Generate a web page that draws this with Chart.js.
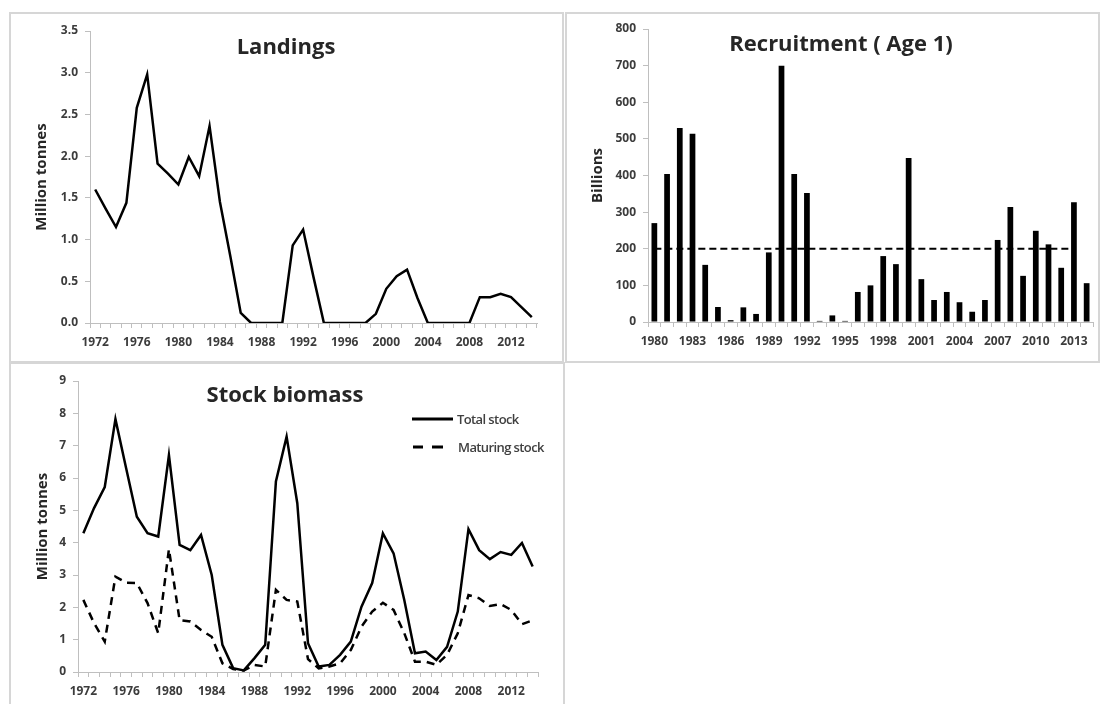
<!DOCTYPE html>
<html><head><meta charset="utf-8">
<script src="https://cdn.jsdelivr.net/npm/chart.js@4.4.1/dist/chart.umd.min.js"></script>
<style>
body{margin:0;background:#fff;width:1104px;height:704px;overflow:hidden;position:relative;font-family:'Open Sans',sans-serif}
.panel{position:absolute;border:2px solid #d6d6d6;background:#fff;overflow:hidden}
.panel canvas{position:absolute;left:0;top:0}
.ttl{position:absolute;font-weight:700;font-size:22px;color:#262626;white-space:nowrap;transform:translate(-50%,-50%);line-height:1}
.lg{position:absolute;font-size:13px;font-weight:600;color:#404040;white-space:nowrap;transform:translateY(-50%);line-height:1;letter-spacing:-0.6px}
.ln{position:absolute;height:3px;background:#000;transform:translateY(-50%)}
</style></head>
<body>
<div class="panel" id="p1" style="left:9px;top:12px;width:551px;height:347px">
  <canvas id="c1" width="551" height="347"></canvas>
  <div class="ttl" style="left:275px;top:31px">Landings</div>
</div>
<div class="panel" id="p2" style="left:565px;top:12px;width:531px;height:347px">
  <canvas id="c2" width="531" height="347"></canvas>
  <div class="ttl" style="left:274px;top:28px">Recruitment ( Age 1)</div>
</div>
<div class="panel" id="p3" style="left:9px;top:362px;width:552px;height:345px">
  <canvas id="c3" width="552" height="345"></canvas>
  <div class="ttl" style="left:274px;top:29px">Stock biomass</div>
  <div class="ln" style="left:401px;top:55px;width:41px"></div>
  <div class="lg" id="lg1" style="left:446px;top:55px"></div>
  <div class="ln" style="left:402px;top:83px;width:10px"></div>
  <div class="ln" style="left:421px;top:83px;width:11px"></div>
  <div class="lg" id="lg2" style="left:447px;top:83px"></div>
</div>
<script>
// ---- data ----
const years = [1972,1973,1974,1975,1976,1977,1978,1979,1980,1981,1982,1983,1984,1985,1986,1987,1988,1989,1990,1991,1992,1993,1994,1995,1996,1997,1998,1999,2000,2001,2002,2003,2004,2005,2006,2007,2008,2009,2010,2011,2012,2013,2014];
const landings = [1.60,1.37,1.15,1.44,2.58,2.98,1.91,1.79,1.66,1.99,1.76,2.36,1.45,0.80,0.12,0,0,0,0,0.93,1.12,0.55,0,0,0,0,0,0.11,0.41,0.56,0.64,0.30,0,0,0,0,0,0.31,0.31,0.35,0.31,0.19,0.07];
const totalStock = [4.29,5.07,5.72,7.82,6.30,4.80,4.29,4.19,6.71,3.93,3.77,4.24,3.00,0.84,0.12,0.05,0.43,0.84,5.89,7.28,5.22,0.89,0.17,0.22,0.53,0.94,2.02,2.75,4.29,3.67,2.23,0.58,0.63,0.37,0.78,1.87,4.42,3.77,3.49,3.71,3.62,3.99,3.26];
const maturingStock = [2.23,1.51,0.94,2.95,2.76,2.75,2.13,1.20,3.80,1.60,1.56,1.30,1.09,0.27,0.09,0.05,0.22,0.17,2.54,2.23,2.18,0.40,0.11,0.17,0.27,0.68,1.40,1.87,2.14,1.92,1.20,0.32,0.32,0.22,0.53,1.20,2.38,2.28,2.04,2.10,1.92,1.48,1.60];
const recruitYears = [1980,1981,1982,1983,1984,1985,1986,1987,1988,1989,1990,1991,1992,1993,1994,1995,1996,1997,1998,1999,2000,2001,2002,2003,2004,2005,2006,2007,2008,2009,2010,2011,2012,2013,2014];
const recruitment = [270,404,530,514,156,41,5,40,22,190,700,404,352,3,18,3,82,100,180,158,448,117,60,82,54,28,60,224,314,126,249,212,148,327,106];
const refLevel = [200,200,200,200,200,200,200,200,200,200,200,200,200,200,200,200,200,200,200,200,200,200,200,200,200,200,200,200,200,200,200,200,200,200,null];
const seriesNames = ['Total stock','Maturing stock'];
const titles = {landingsY:'Million tonnes', recruitY:'Billions', stockY:'Million tonnes'};

document.getElementById('lg1').textContent = seriesNames[0];
document.getElementById('lg2').textContent = seriesNames[1];

const tickFont = {family:'Open Sans', weight:'bold', size:12};
const tickColor = '#3c3c3c';
const axisGrey = '#bfbfbf';
const titleFont = {family:'Open Sans', weight:'bold', size:15};

function xAxis(height, every, firstYear){
  return {
    type:'category', offset:true,
    grid:{display:true, drawOnChartArea:false, drawTicks:true, tickLength:5, offset:true, color:axisGrey, lineWidth:1},
    border:{display:true, color:axisGrey, width:1},
    ticks:{autoSkip:false, maxRotation:0, minRotation:0, font:tickFont, color:tickColor, padding:7,
      callback:function(v){ const y = Number(this.getLabelForValue(v)); return ((y-firstYear)%every===0)? String(y):''; }},
    afterFit:s=>{s.height=height;}
  };
}
function yAxis(width, max, step, dec, title, padTop){
  return {
    min:0, max:max,
    grid:{display:true, drawOnChartArea:false, drawTicks:true, tickLength:5, color:axisGrey, lineWidth:1},
    border:{display:true, color:axisGrey, width:1},
    ticks:{stepSize:step, font:tickFont, color:tickColor, padding:7, callback:v=>v.toFixed(dec)},
    title:{display:true, text:title, font:titleFont, color:'#262626', padding:{top:padTop,bottom:0}},
    afterFit:s=>{s.width=width;}
  };
}
const common = {responsive:false, animation:false, devicePixelRatio:1,
  plugins:{legend:{display:false}, tooltip:{enabled:false}, title:{display:false}}};

new Chart(document.getElementById('c1'), {
  type:'line',
  data:{labels:years, datasets:[{data:landings, borderColor:'#000', borderWidth:2.5, pointRadius:0, tension:0, fill:false}]},
  options:Object.assign({}, common, {
    layout:{padding:{top:17,right:25,left:0,bottom:0}},
    scales:{x:xAxis(38,4,1972), y:yAxis(79,3.5,0.5,1,titles.landingsY,22)}
  })
});

new Chart(document.getElementById('c2'), {
  type:'bar',
  data:{labels:recruitYears, datasets:[
    {type:'line', data:refLevel, borderColor:'#000', borderWidth:2, borderDash:[7,4], pointRadius:0, fill:false, order:0},
    {type:'bar', data:recruitment, backgroundColor:'#000', borderWidth:0, categoryPercentage:1, barPercentage:0.45, order:1}
  ]},
  options:Object.assign({}, common, {
    layout:{padding:{top:15,right:5,left:0,bottom:0}},
    scales:{x:xAxis(39,3,1980), y:yAxis(81,800,100,0,titles.recruitY,22)}
  })
});

new Chart(document.getElementById('c3'), {
  type:'line',
  data:{labels:years, datasets:[
    {label:seriesNames[0], data:totalStock, borderColor:'#000', borderWidth:2.5, pointRadius:0, tension:0, fill:false},
    {label:seriesNames[1], data:maturingStock, borderColor:'#000', borderWidth:2.5, borderDash:[8,6], pointRadius:0, tension:0, fill:false}
  ]},
  options:Object.assign({}, common, {
    layout:{padding:{top:17,right:25,left:0,bottom:0}},
    scales:{x:xAxis(37,4,1972), y:yAxis(67,9,1,0,titles.stockY,23)}
  })
});
</script>
</body></html>
